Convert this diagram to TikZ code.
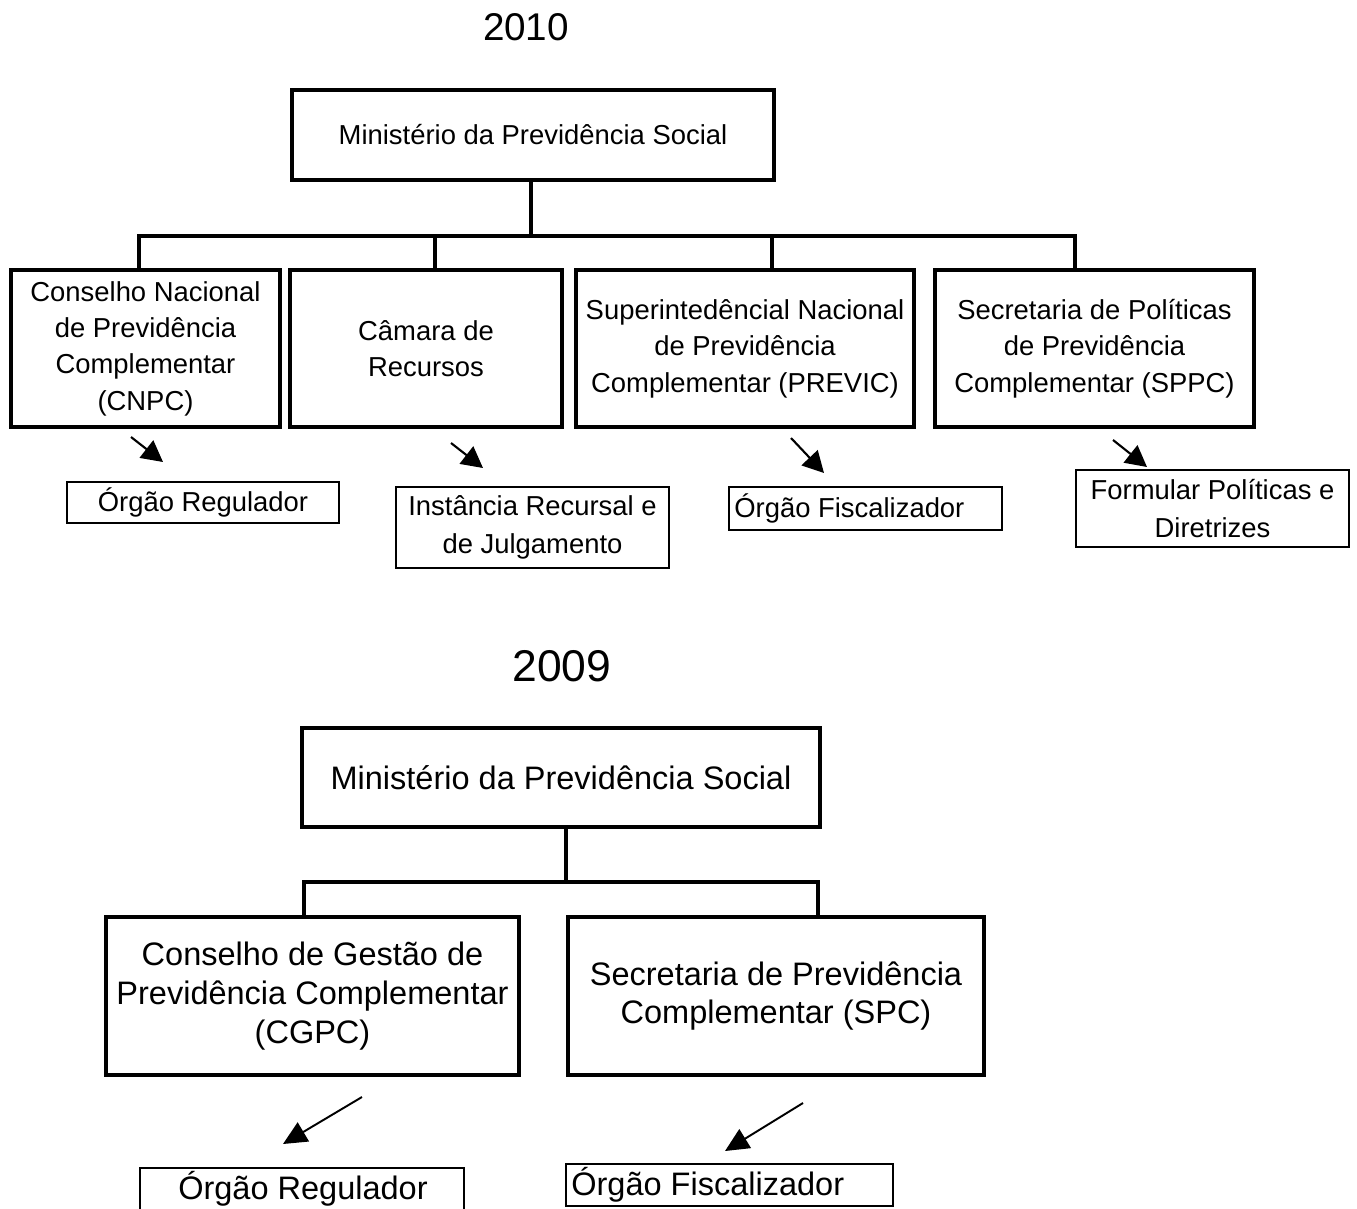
\documentclass[tikz,border=0pt]{standalone}
\usepackage{fontspec}
\setmainfont{Liberation Sans}
\usetikzlibrary{arrows.meta}
\def\pu{0.2mm}
\begin{document}
\begin{tikzpicture}[x=0.2mm,y=-0.2mm,
  bigbox/.style={draw, line width=2.8pt, inner sep=0pt, outer sep=0pt, align=center},
  smallbox/.style={draw, line width=0.9pt, inner sep=0pt, outer sep=0pt, align=center},
  fA/.style={font=\fontsize{15.6}{20.7}\selectfont},
  fAs/.style={font=\fontsize{15.6}{21.5}\selectfont},
  fB/.style={font=\fontsize{18.5}{22}\selectfont},
  link/.style={line width=2.6pt},
  pointer/.style={line width=1.2pt, -{Triangle[length=12pt,width=12.5pt]}},
  pointerB/.style={line width=1.1pt, -{Triangle[length=13.5pt,width=12.5pt]}},
]
\clip (0,0) rectangle (1357,1208);
\fill[white] (0,0) rectangle (1357,1208);

% ---------------- 2010 ----------------
\node[font=\fontsize{22}{26}\selectfont] (t2010) at (526,27) {2010};

\node[bigbox, fA, minimum width={482*\pu}, minimum height={90*\pu}] (top) at (533,135) {Ministério da Previdência Social};

\node[bigbox, fA, minimum width={269*\pu}, minimum height={157*\pu}] (b1) at (145.5,348.5) {Conselho Nacional\\de Previdência\\Complementar\\(CNPC)};
\node[bigbox, fA, minimum width={272*\pu}, minimum height={157*\pu}] (b2) at (426,348.5) {Câmara de\\Recursos};
\node[bigbox, fA, minimum width={338*\pu}, minimum height={157*\pu}] (b3) at (745,348.5) {Superintedêncial Nacional\\de Previdência\\Complementar (PREVIC)};
\node[bigbox, fA, minimum width={319*\pu}, minimum height={157*\pu}] (b4) at (1094.5,348.5) {Secretaria de Políticas\\de Previdência\\Complementar (SPPC)};

\coordinate (j1) at (531,236);
\coordinate (d1) at (139,236);
\coordinate (d2) at (435,236);
\coordinate (d3) at (772,236);
\coordinate (d4) at (1075,236);
\draw[link] (top.south -| j1) -- (j1);
\draw[link] (b1.north -| d1) -- (d1) -- (d4) -- (b4.north -| d4);
\draw[link] (d2) -- (b2.north -| d2);
\draw[link] (d3) -- (b3.north -| d3);

\node[smallbox, fAs, minimum width={272*\pu}, minimum height={41*\pu}] (s1) at (203,502.5) {Órgão Regulador};
\node[smallbox, fAs, minimum width={273*\pu}, minimum height={81*\pu}] (s2) at (532.5,527.5) {Instância Recursal e\\de Julgamento};
\node[smallbox, minimum width={273*\pu}, minimum height={43*\pu}] (s3) at (865.5,508.5) {};
\node[fAs, anchor=west, inner sep=0pt] (s3t) at ([xshift=1.0mm]s3.west) {Órgão Fiscalizador};
\node[smallbox, fAs, minimum width={273*\pu}, minimum height={77*\pu}] (s4) at (1212.5,508.5) {Formular Políticas e\\Diretrizes};

\coordinate (a1s) at (131,437); \coordinate (a1e) at (163,462);
\coordinate (a2s) at (451,443); \coordinate (a2e) at (483,468);
\coordinate (a3s) at (791,438); \coordinate (a3e) at (824,473);
\coordinate (a4s) at (1113,440); \coordinate (a4e) at (1147,467);
\draw[pointer] (a1s) -- (a1e);
\draw[pointer] (a2s) -- (a2e);
\draw[pointer] (a3s) -- (a3e);
\draw[pointer] (a4s) -- (a4e);

% ---------------- 2009 ----------------
\node[font=\fontsize{25.3}{30}\selectfont] (t2009) at (562,666) {2009};

\node[bigbox, fB, minimum width={518*\pu}, minimum height={99*\pu}] (top2) at (561,777.5) {Ministério da Previdência Social};
\node[bigbox, fB, minimum width={413*\pu}, minimum height={158*\pu}] (L) at (312.5,996) {Conselho de Gestão de\\Previdência Complementar\\(CGPC)};
\node[bigbox, fB, minimum width={416*\pu}, minimum height={158*\pu}] (R) at (776,996) {Secretaria de Previdência\\Complementar (SPC)};

\coordinate (j2) at (566,882);
\coordinate (e1) at (304,882);
\coordinate (e2) at (818,882);
\draw[link] (top2.south -| j2) -- (j2);
\draw[link] (L.north -| e1) -- (e1) -- (e2) -- (R.north -| e2);

\node[smallbox, minimum width={324*\pu}, minimum height={80*\pu}] (sL) at (302,1208) {};
\node[fB] (sLt) at (303,1189) {Órgão Regulador};
\node[smallbox, minimum width={327*\pu}, minimum height={42*\pu}] (sR) at (729.5,1185) {};
\node[fB, anchor=west, inner sep=0pt] (sRt) at ([xshift=1.0mm]sR.west) {Órgão Fiscalizador};

\coordinate (bLs) at (362,1097); \coordinate (bLe) at (283,1144);
\coordinate (bRs) at (803,1103); \coordinate (bRe) at (725,1151);
\draw[pointerB] (bLs) -- (bLe);
\draw[pointerB] (bRs) -- (bRe);
\end{tikzpicture}
\end{document}
